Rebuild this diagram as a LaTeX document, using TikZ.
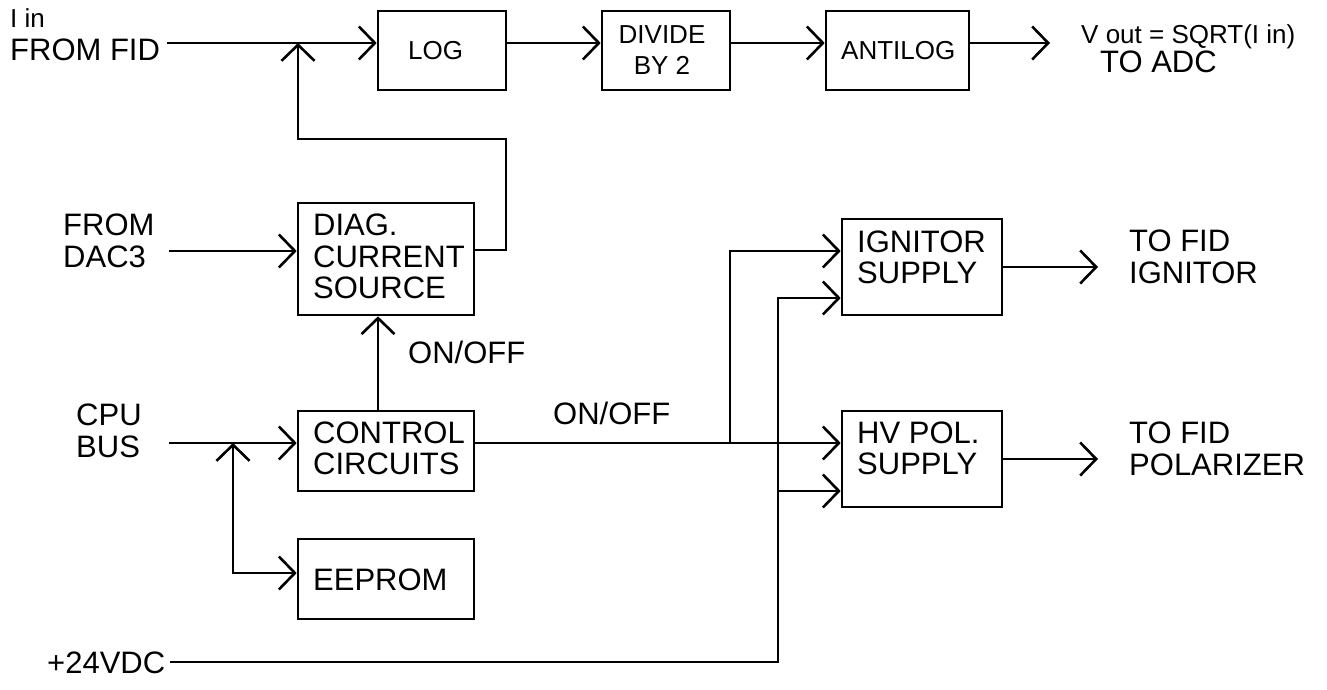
\documentclass[tikz,border=0pt]{standalone}
\usepackage{fontspec}
\setmainfont{Liberation Sans}
\usetikzlibrary{arrows.meta}
\begin{document}
\begin{tikzpicture}[x=1pt,y=-1pt,
  box/.style={draw,line width=2.6pt,inner sep=0pt},
  big/.style={inner sep=0pt,anchor=base west,font=\fontsize{31}{31}\selectfont},
  mid/.style={inner sep=0pt,anchor=base west,font=\fontsize{26}{26}\selectfont},
  conn/.style={line width=2.6pt},
  arr/.style={conn,-{Straight Barb[length=16pt,width=33pt]}},
  arrboth/.style={conn,{Straight Barb[length=16pt,width=33pt]}-{Straight Barb[length=16pt,width=33pt]}}
]
\useasboundingbox[fill=white] (0,0) rectangle (1327,689);

% boxes
\node[box,minimum width=128pt,minimum height=79pt] (log) at (442,50.5) {};
\node[box,minimum width=128pt,minimum height=79pt] (div) at (666,50.5) {};
\node[box,minimum width=143pt,minimum height=79pt] (anti) at (897.5,50.5) {};
\node[box,minimum width=176pt,minimum height=112pt] (diag) at (386,259) {};
\node[box,minimum width=176pt,minimum height=80pt] (ctrl) at (386,451) {};
\node[box,minimum width=176pt,minimum height=80pt] (eep) at (386,579) {};
\node[box,minimum width=160pt,minimum height=96pt] (ign) at (922,267) {};
\node[box,minimum width=160pt,minimum height=96pt] (hv) at (922,459) {};

% box texts
\node[mid] (tlog) at (408,59) {LOG};
\node[mid,anchor=base] (tdiv1) at (662,43) {DIVIDE};
\node[mid,anchor=base] (tdiv2) at (662,74) {BY 2};
\node[mid] (tanti) at (841,59) {ANTILOG};
\node[big] (tdiag1) at (313,235) {DIAG.};
\node[big] (tdiag2) at (313,267) {CURRENT};
\node[big] (tdiag3) at (313,298) {SOURCE};
\node[big] (tctrl1) at (313,443) {CONTROL};
\node[big] (tctrl2) at (313,474) {CIRCUITS};
\node[big] (teep) at (313,590) {EEPROM};
\node[big] (tign1) at (857,252) {IGNITOR};
\node[big] (tign2) at (857,283) {SUPPLY};
\node[big] (thv1) at (857,443) {HV POL.};
\node[big] (thv2) at (857,474) {SUPPLY};

% outside labels
\node[mid] (tiin) at (10,27) {I in};
\node[big] (tfid) at (10,60) {FROM FID};
\node[mid] (tvout) at (1081,43) {V out = SQRT(I in)};
\node[big] (tadc) at (1100,72) {TO ADC};
\node[big] (tdac1) at (63,235) {FROM};
\node[big] (tdac2) at (63,267) {DAC3};
\node[big] (tcpu1) at (76,425) {CPU};
\node[big] (tcpu2) at (76,457) {BUS};
\node[big] (ton1) at (408,363) {ON/OFF};
\node[big] (ton2) at (553,424) {ON/OFF};
\node[big] (tpwr) at (47,673) {+24VDC};
\node[big] (tfi1) at (1129,251) {TO FID};
\node[big] (tfi2) at (1129,283) {IGNITOR};
\node[big] (tfp1) at (1129,443) {TO FID};
\node[big] (tfp2) at (1129,475) {POLARIZER};

% coordinates
\coordinate (fidend) at (167,43);
\coordinate (outtip) at (1050,43);
\coordinate (fbA) at (506,250);
\coordinate (fbR) at (506,139);
\coordinate (fbL) at (298,139);
\coordinate (jn1) at (298,43);
\coordinate (dacend) at (169,251);
\coordinate (cx) at (378,0);
\coordinate (cpuend) at (169,443);
\coordinate (jn2) at (233,443);
\coordinate (ecorner) at (233,573);
\coordinate (jn3) at (730,443);
\coordinate (b1) at (730,251);
\coordinate (pwr) at (170,662);
\coordinate (pc) at (778,662);
\coordinate (pt) at (778,298);
\coordinate (pm) at (778,491);
\coordinate (o1) at (1098,267);
\coordinate (o2) at (1098,459);

% connectors
\draw[arr] (fidend) -- (log.west |- fidend);
\draw[arr] (log.east |- fidend) -- (div.west |- fidend);
\draw[arr] (div.east |- fidend) -- (anti.west |- fidend);
\draw[arr] (anti.east |- fidend) -- (outtip);
\draw[arr] (diag.east |- fbA) -- (fbA) -- (fbR) -- (fbL) -- (jn1);
\draw[arr] (dacend) -- (diag.west |- dacend);
\draw[arr] (ctrl.north -| cx) -- (diag.south -| cx);
\draw[arr] (cpuend) -- (ctrl.west |- cpuend);
\draw[arrboth] (jn2) -- (ecorner) -- (eep.west |- ecorner);
\draw[arr] (ctrl.east |- cpuend) -- (hv.west |- cpuend);
\draw[arr] (jn3) -- (b1) -- (ign.west |- b1);
\draw[arr] (pwr) -- (pc) -- (pt) -- (ign.west |- pt);
\draw[arr] (pm) -- (hv.west |- pm);
\draw[arr] (ign.east) -- (o1);
\draw[arr] (hv.east) -- (o2);
\end{tikzpicture}
\end{document}
